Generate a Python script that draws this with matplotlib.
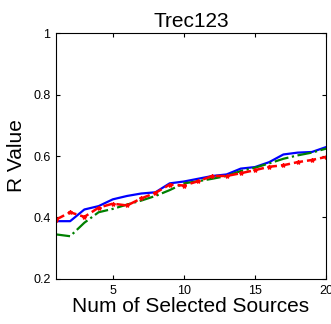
import matplotlib
matplotlib.use("Agg")
import matplotlib.pyplot as plt

# -------------------------
# DATA
# -------------------------
num_sources = list(range(1, 21))

r_blue = [0.388, 0.388, 0.426, 0.437, 0.459, 0.470, 0.478, 0.482, 0.511, 0.517,
          0.526, 0.535, 0.540, 0.559, 0.564, 0.580, 0.605, 0.611, 0.613, 0.629]
r_green = [0.345, 0.339, 0.383, 0.417, 0.428, 0.442, 0.455, 0.470, 0.489, 0.511,
           0.518, 0.526, 0.535, 0.551, 0.562, 0.576, 0.591, 0.602, 0.611, 0.624]
r_red = [0.393, 0.417, 0.402, 0.432, 0.445, 0.439, 0.462, 0.480, 0.507, 0.504,
         0.518, 0.535, 0.535, 0.544, 0.554, 0.565, 0.570, 0.580, 0.587, 0.597]

y_ticks = [0.2, 0.4, 0.6, 0.8, 1]
y_ticklabels = ["0.2", "0.4", "0.6", "0.8", "1"]
x_ticks = [5, 10, 15, 20]

# -------------------------
# PLOT
# -------------------------
plt.rcParams["font.family"] = ["Liberation Sans", "DejaVu Sans"]

fig = plt.figure(figsize=(3.31, 3.24), dpi=100)
ax = fig.add_axes([0.169, 0.139, 0.816, 0.759])

ax.plot(num_sources, r_blue, color="#0000ff", linestyle="-", linewidth=1.6)
ax.plot(num_sources, r_green, color="#008000", linestyle="-.", linewidth=1.6)
ax.plot(num_sources, r_red, color="#ff0000", linestyle="--", linewidth=1.8,
        marker="*", markersize=3)

ax.set_xlim(1, 20)
ax.set_ylim(0.2, 1)
ax.set_xticks(x_ticks)
ax.set_xticklabels([str(t) for t in x_ticks])
ax.set_yticks(y_ticks)
ax.set_yticklabels(y_ticklabels)
ax.tick_params(direction="in", length=3, width=0.8, labelsize=9,
               top=True, right=True, pad=4)

for s in ax.spines.values():
    s.set_linewidth(0.8)

ax.set_title("Trec123", fontsize=15, pad=4)
ax.set_xlabel("Num of Selected Sources", fontsize=15, labelpad=0)
ax.set_ylabel("R Value", fontsize=15, labelpad=5)

fig.savefig("out.png", dpi=100)
